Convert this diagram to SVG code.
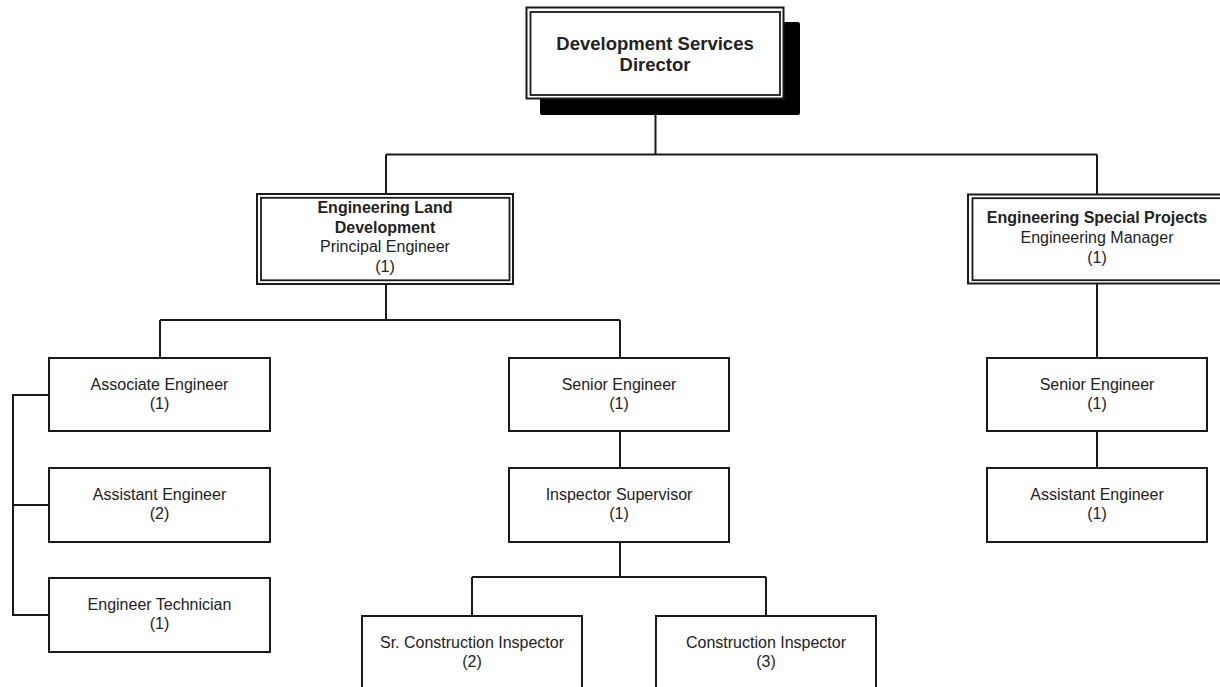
<svg xmlns="http://www.w3.org/2000/svg" width="1220" height="687" viewBox="0 0 1220 687">
  <style>
    .bg { fill: #ffffff; }
    .box { fill: #ffffff; stroke: #1a1a1a; stroke-width: 2; }
    .frame { fill: none; stroke: #1a1a1a; stroke-width: 1.8; }
    .shadow { fill: #000000; }
    .link { fill: none; stroke: #1a1a1a; stroke-width: 2; }
    text { font-family: "Liberation Sans", Arial, sans-serif; fill: #222222; text-anchor: middle; }
    .t { font-size: 16px; }
    .b { font-size: 16px; font-weight: bold; }
    .head { font-size: 18.5px; font-weight: bold; }
  </style>

  <rect class="bg" x="0" y="0" width="1220" height="687"/>

  <!-- reporting lines -->
  <g id="connectors">
    <path class="link" d="M655.5 115 V154.5 M386 154.5 H1097 M386 154.5 V194 M1097 154.5 V194"/>
    <path class="link" d="M386 284 V320 M160 320 H620 M160 320 V358 M620 320 V358"/>
    <path class="link" d="M13 395 H49 M13 505 H49 M13 615 H49 M13 394 V616"/>
    <path class="link" d="M620 431 V468 M620 542 V577 M472 577 H766 M472 577 V616 M766 577 V616"/>
    <path class="link" d="M1097 284 V358 M1097 431 V468"/>
  </g>

  <!-- top position with drop shadow and double frame -->
  <g id="director">
    <rect class="shadow" x="540" y="22" width="260" height="93" rx="2"/>
    <rect class="box" x="526.5" y="7.5" width="257" height="91"/>
    <rect class="frame" x="530.5" y="12" width="249.5" height="83"/>
    <text class="head" x="655" y="50">Development Services</text>
    <text class="head" x="655" y="71">Director</text>
  </g>

  <g id="eng-land-dev">
    <rect class="box" x="257" y="194" width="256" height="90"/>
    <rect class="frame" x="261" y="197.8" width="248.5" height="82.5"/>
    <text class="b" x="385" y="213">Engineering Land</text>
    <text class="b" x="385" y="232.5">Development</text>
    <text class="t" x="385" y="252">Principal Engineer</text>
    <text class="t" x="385" y="271.5">(1)</text>
  </g>

  <g id="eng-special-projects">
    <rect class="box" x="968" y="194.5" width="258" height="89"/>
    <rect class="frame" x="972.5" y="198.2" width="250" height="82"/>
    <text class="b" x="1097" y="223">Engineering Special Projects</text>
    <text class="t" x="1097" y="243">Engineering Manager</text>
    <text class="t" x="1097" y="263">(1)</text>
  </g>

  <g id="associate-engineer">
    <rect class="box" x="49" y="358" width="221" height="73"/>
    <text class="t" x="159.5" y="390">Associate Engineer</text>
    <text class="t" x="159.5" y="409">(1)</text>
  </g>

  <g id="assistant-engineer-left">
    <rect class="box" x="49" y="468" width="221" height="74"/>
    <text class="t" x="159.5" y="500">Assistant Engineer</text>
    <text class="t" x="159.5" y="519">(2)</text>
  </g>

  <g id="engineer-technician">
    <rect class="box" x="49" y="578" width="221" height="74"/>
    <text class="t" x="159.5" y="610">Engineer Technician</text>
    <text class="t" x="159.5" y="629">(1)</text>
  </g>

  <g id="senior-engineer-mid">
    <rect class="box" x="509" y="358" width="220" height="73"/>
    <text class="t" x="619" y="390">Senior Engineer</text>
    <text class="t" x="619" y="409">(1)</text>
  </g>

  <g id="inspector-supervisor">
    <rect class="box" x="509" y="468" width="220" height="74"/>
    <text class="t" x="619" y="500">Inspector Supervisor</text>
    <text class="t" x="619" y="519">(1)</text>
  </g>

  <g id="sr-construction-inspector">
    <rect class="box" x="362" y="616" width="220" height="90"/>
    <text class="t" x="472" y="648">Sr. Construction Inspector</text>
    <text class="t" x="472" y="667">(2)</text>
  </g>

  <g id="construction-inspector">
    <rect class="box" x="656" y="616" width="220" height="90"/>
    <text class="t" x="766" y="648">Construction Inspector</text>
    <text class="t" x="766" y="667">(3)</text>
  </g>

  <g id="senior-engineer-right">
    <rect class="box" x="987" y="358" width="220" height="73"/>
    <text class="t" x="1097" y="390">Senior Engineer</text>
    <text class="t" x="1097" y="409">(1)</text>
  </g>

  <g id="assistant-engineer-right">
    <rect class="box" x="987" y="468" width="220" height="74"/>
    <text class="t" x="1097" y="500">Assistant Engineer</text>
    <text class="t" x="1097" y="519">(1)</text>
  </g>
</svg>
